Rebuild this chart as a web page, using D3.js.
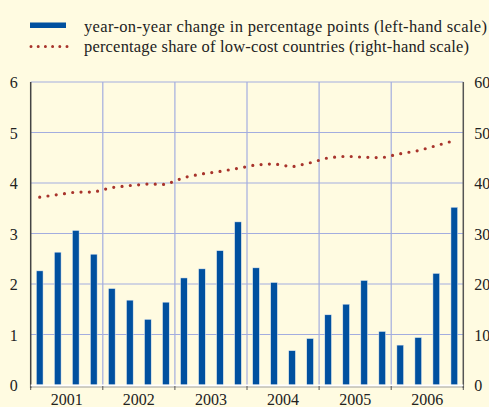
<html>
<head>
<style>
    body { margin: 0; background: #fffbe1; }
</style>
</head>
<body>
<svg width="489" height="407"></svg>

<script src="https://d3js.org/d3.v7.min.js"></script>
<script>
    let width = 489
    let height = 407
    let serif = "'Liberation Serif', 'Times New Roman', Times, serif"

    // chart values
    let years = ["2001", "2002", "2003", "2004", "2005", "2006"]
    let quarters = ["Q1", "Q2", "Q3", "Q4"]
    let changeValues = [2.26, 2.63, 3.06, 2.59,  1.91, 1.68, 1.30, 1.64,
                        2.12, 2.30, 2.66, 3.23,  2.32, 2.03, 0.68, 0.92,
                        1.39, 1.60, 2.07, 1.06,  0.79, 0.94, 2.21, 3.52]
    let shareValues  = [37.2, 37.7, 38.2, 38.2,  39.1, 39.5, 39.8, 39.7,
                        41.1, 41.8, 42.3, 42.9,  43.6, 43.8, 43.2, 44.0,
                        45.0, 45.3, 45.1, 45.0,  45.8, 46.4, 47.4, 48.4]
    let leftTicks = [0, 1, 2, 3, 4, 5, 6]
    let rightTicks = [0, 10, 20, 30, 40, 50, 60]
    let legendLabels = ["year-on-year change in percentage points (left-hand scale)",
                        "percentage share of low-cost countries (right-hand scale)"]

    let periods = []
    years.forEach(y => quarters.forEach(q => periods.push(y + q)))
    let data = periods.map((p, i) => ({period: p, change: changeValues[i], share: shareValues[i]}))

    let margin = {top: 82, right: 25.7, bottom: 22, left: 30.7}
    let svg = d3.select("svg")

    svg.append("rect").attr("width", width).attr("height", height).style("fill", "#fffbe1")

    let xYear = d3.scaleBand()
        .domain(years)
        .range([margin.left, width - margin.right])

    let x = d3.scaleBand()
        .domain(periods)
        .range([margin.left, width - margin.right])
        .paddingInner(0.63)
        .paddingOuter(0.315)

    let y = d3.scaleLinear()
        .domain([0, 6])
        .range([height - margin.bottom, margin.top])

    let y2 = d3.scaleLinear()
        .domain([0, 60])
        .range([height - margin.bottom, margin.top])

    // horizontal grid
    svg.append("g")
        .attr("class", "grid")
        .selectAll("line")
        .data(leftTicks.slice(1))
        .join("line")
        .attr("x1", margin.left)
        .attr("x2", width - margin.right)
        .attr("y1", d => y(d))
        .attr("y2", d => y(d))
        .style("stroke", "#a3addf")
        .style("stroke-width", 1.2)

    // vertical year grid
    svg.append("g")
        .attr("class", "vgrid")
        .selectAll("line")
        .data(years.slice(1))
        .join("line")
        .attr("x1", d => xYear(d))
        .attr("x2", d => xYear(d))
        .attr("y1", y(6))
        .attr("y2", y(0))
        .style("stroke", "#a3addf")
        .style("stroke-width", 1.2)

    // bars
    svg.append("g")
        .attr("class", "bars")
        .selectAll("rect")
        .data(data)
        .join("rect")
        .attr("x", d => x(d.period))
        .attr("width", x.bandwidth())
        .attr("y", d => y(d.change))
        .attr("height", d => y(0) - y(d.change))
        .style("fill", "#00509f")
        .style("stroke", "#e6ecf0")
        .style("stroke-width", 0.5)

    // dotted share line
    let line = d3.line()
        .x(d => x(d.period) + x.bandwidth() / 2)
        .y(d => y2(d.share))

    svg.append("path")
        .datum(data)
        .attr("d", line)
        .style("fill", "none")
        .style("stroke", "#a8342c")
        .style("stroke-width", 3.2)
        .style("stroke-linecap", "round")
        .style("stroke-dasharray", "0 8.33")

    // left axis
    let yAxis = svg.append("g")
        .attr("class", "y axis")
        .attr("transform", `translate(${margin.left}, 0)`)
        .call(d3.axisLeft(y).tickValues(leftTicks).tickFormat(d3.format("d")).tickSize(0).tickPadding(13))
    yAxis.select(".domain").style("stroke", "#444").style("stroke-width", 1.5)
        .attr("d", `M0,${y(6)}V${y(0) + 3}`)

    // right axis
    let yAxis2 = svg.append("g")
        .attr("class", "y2 axis")
        .attr("transform", `translate(${width - margin.right}, 0)`)
        .call(d3.axisRight(y2).tickValues(rightTicks).tickFormat(d3.format("d")).tickSize(0).tickPadding(11))
    yAxis2.select(".domain").style("stroke", "#555").style("stroke-width", 1.5)
        .attr("d", `M0,${y2(60)}V${y2(0) + 3}`)

    // bottom axis
    svg.append("line")
        .attr("x1", margin.left)
        .attr("x2", width - margin.right)
        .attr("y1", y(0) + 0.5)
        .attr("y2", y(0) + 0.5)
        .style("stroke", "#ffffff")
        .style("stroke-width", 2)

    let xAxis = svg.append("g")
        .attr("class", "x axis")
        .attr("transform", `translate(0, ${y(0) + 1.5})`)
        .call(d3.axisBottom(xYear).tickSize(0).tickPadding(7))
    xAxis.select(".domain").style("stroke", "#888").style("stroke-width", 0.8)

    svg.selectAll(".axis text")
        .attr("dy", function () { return d3.select(this.parentNode.parentNode).classed("x") ? "0.71em" : "0.36em" })
        .style("font-family", serif)
        .style("font-size", "16px")
        .style("fill", "#222")

    svg.append("g")
        .selectAll("line")
        .data(years.concat(["end"]))
        .join("line")
        .attr("x1", d => d === "end" ? width - margin.right : xYear(d))
        .attr("x2", d => d === "end" ? width - margin.right : xYear(d))
        .attr("y1", y(0) + 1)
        .attr("y2", y(0) + 5)
        .style("stroke", "#555")
        .style("stroke-width", 1)

    // legend
    let legend = svg.append("g").attr("class", "legend")

    legend.append("rect")
        .attr("x", 30)
        .attr("y", 22.5)
        .attr("width", 36)
        .attr("height", 5.5)
        .style("fill", "#00509f")

    legend.append("line")
        .attr("x1", 31)
        .attr("x2", 67)
        .attr("y1", 46.5)
        .attr("y2", 46.5)
        .style("stroke", "#a8342c")
        .style("stroke-width", 3)
        .style("stroke-linecap", "round")
        .style("stroke-dasharray", "0 7.2")

    legend.selectAll("text")
        .data(legendLabels)
        .join("text")
        .attr("x", 84)
        .attr("y", (d, i) => 31.5 + i * 20.5)
        .attr("textLength", (d, i) => i === 0 ? 403 : 385)
        .attr("lengthAdjust", "spacing")
        .text(d => d)
        .style("font-family", serif)
        .style("font-size", "16.5px")
        .style("fill", "#222")
</script>
</body>
</html>
